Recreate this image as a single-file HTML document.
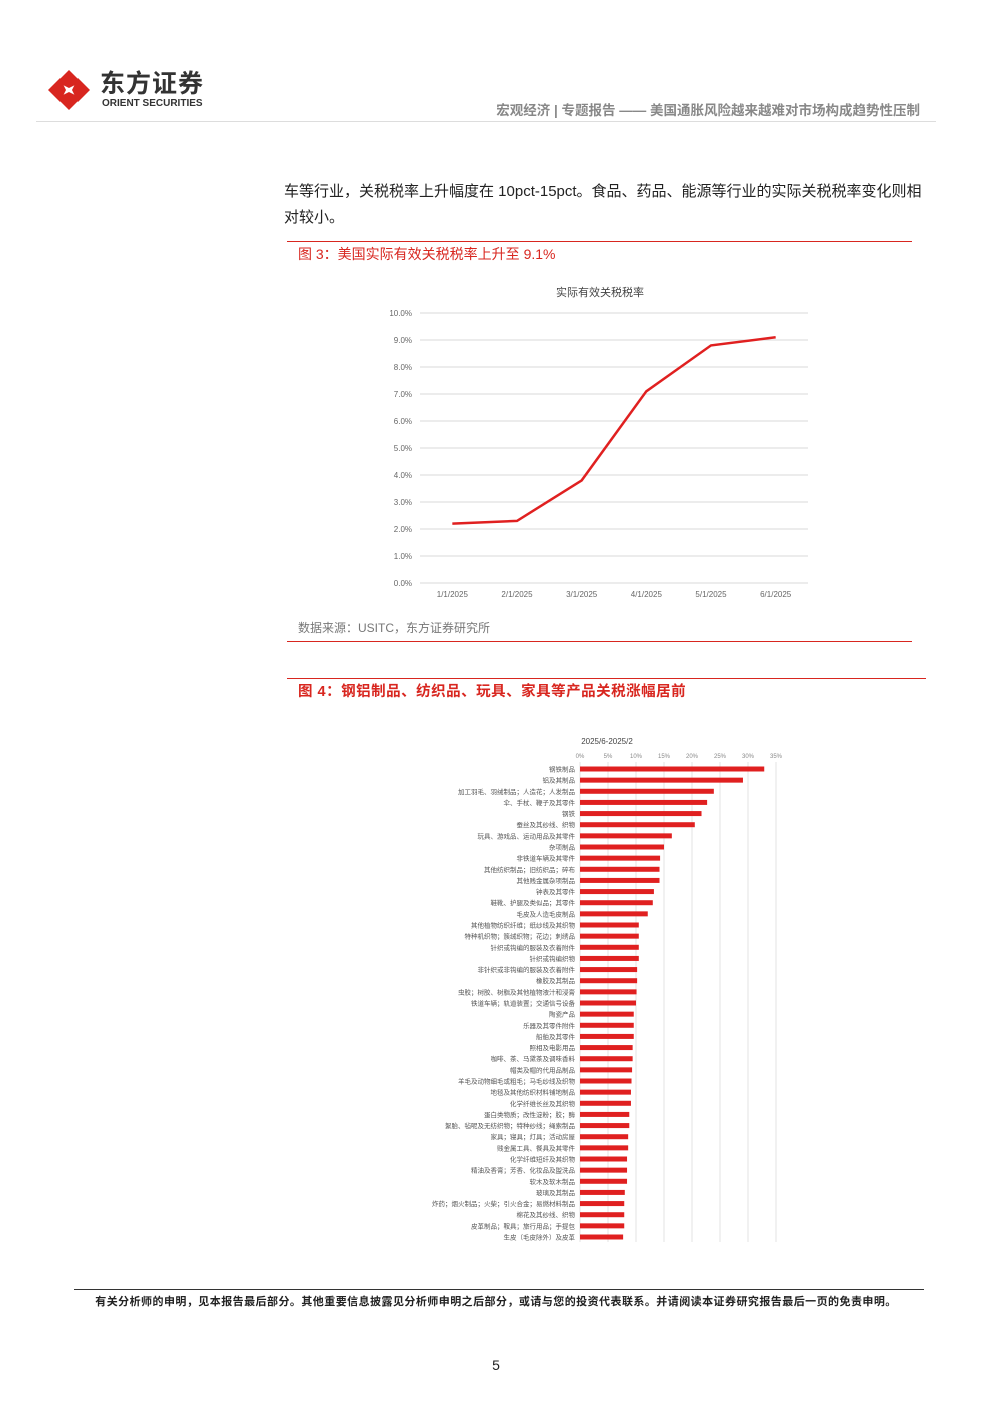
<!DOCTYPE html>
<html><head><meta charset="utf-8">
<style>
body{margin:0;width:992px;height:1403px;background:#fff;position:relative;font-family:"Liberation Sans","Noto Sans CJK SC",sans-serif;overflow:hidden}
.a{position:absolute;white-space:nowrap}
</style></head><body>
<div>
<svg class="a" style="left:46px;top:68px" width="46" height="44">
<path d="M23 2 L35 14 L23 20 L11 14 Z" fill="#d8261f"/><path d="M2 22 L14 10 L20 22 L14 34 Z" fill="#d8261f"/><path d="M44 22 L32 10 L26 22 L32 34 Z" fill="#d8261f"/><path d="M23 42 L11 30 L23 24 L35 30 Z" fill="#d8261f"/></svg>
<div class="a" style="left:100px;top:72px;font-size:25px;line-height:25px;font-weight:bold;color:#333;letter-spacing:1px">东方证券</div>
<div class="a" style="left:102px;top:99px;font-size:10px;line-height:10px;font-weight:bold;color:#333">ORIENT SECURITIES</div>
<div class="a" style="right:72px;top:99px;font-size:13.5px;font-weight:bold;color:#888">宏观经济 | 专题报告 —— 美国通胀风险越来越难对市场构成趋势性压制</div>
<div class="a" style="left:36px;top:121px;width:900px;height:1px;background:#ddd"></div>
</div>
<div class="a" style="left:284px;top:179px;font-size:15px;line-height:26px;color:#222;white-space:normal;width:645px">车等行业，关税税率上升幅度在 10pct-15pct。食品、药品、能源等行业的实际关税税率变化则相对较小。</div>
<div class="a" style="left:287px;top:241px;width:625px;height:1px;background:#d8261f"></div>
<div class="a" style="left:298px;top:244px;font-size:14px;color:#d8261f">图 3：美国实际有效关税税率上升至 9.1%</div>
<svg class="a" style="left:0;top:0" width="992" height="1403" id="line"></svg>
<div class="a" style="left:298px;top:619px;font-size:12px;color:#777">数据来源：USITC，东方证券研究所</div>
<div class="a" style="left:287px;top:641px;width:625px;height:1px;background:#d8261f"></div>
<div class="a" style="left:287px;top:678px;width:639px;height:1px;background:#d8261f"></div>
<div class="a" style="left:298px;top:680px;font-size:14.5px;font-weight:bold;color:#d8261f;letter-spacing:0.5px">图 4：钢铝制品、纺织品、玩具、家具等产品关税涨幅居前</div>
<svg class="a" style="left:0;top:0" width="992" height="1403" id="bar"></svg>
<div class="a" style="left:74px;top:1289px;width:850px;height:1px;background:#333"></div>
<div class="a" style="left:0;width:992px;text-align:center;top:1293px;font-size:11px;font-weight:bold;color:#222;letter-spacing:0.45px">有关分析师的申明，见本报告最后部分。其他重要信息披露见分析师申明之后部分，或请与您的投资代表联系。并请阅读本证券研究报告最后一页的免责申明。</div>
<div class="a" style="left:0;width:992px;text-align:center;top:1357px;font-size:14px;color:#222">5</div>
<script>
const lineCats=["1/1/2025","2/1/2025","3/1/2025","4/1/2025","5/1/2025","6/1/2025"];
const lineVals=[2.2,2.3,3.8,7.1,8.8,9.1];
const lineTicks=[0,1,2,3,4,5,6,7,8,9,10];
const barCats=["钢铁制品","铝及其制品","加工羽毛、羽绒制品；人造花；人发制品","伞、手杖、鞭子及其零件","钢铁","蚕丝及其纱线、织物","玩具、游戏品、运动用品及其零件","杂项制品","非铁道车辆及其零件","其他纺织制品；旧纺织品；碎布","其他贱金属杂项制品","钟表及其零件","鞋靴、护腿及类似品；其零件","毛皮及人造毛皮制品","其他植物纺织纤维；纸纱线及其织物","特种机织物；簇绒织物；花边；刺绣品","针织或钩编的服装及衣着附件","针织或钩编织物","非针织或非钩编的服装及衣着附件","橡胶及其制品","虫胶；树胶、树脂及其他植物液汁和浸膏","铁道车辆；轨道装置；交通信号设备","陶瓷产品","乐器及其零件附件","船舶及其零件","照相及电影用品","咖啡、茶、马黛茶及调味香料","帽类及帽的代用品制品","羊毛及动物细毛或粗毛；马毛纱线及织物","地毯及其他纺织材料铺地制品","化学纤维长丝及其织物","蛋白类物质；改性淀粉；胶；酶","絮胎、毡呢及无纺织物；特种纱线；绳索制品","家具；寝具；灯具；活动房屋","贱金属工具、餐具及其零件","化学纤维短纤及其织物","精油及香膏；芳香、化妆品及盥洗品","软木及软木制品","玻璃及其制品","炸药；烟火制品；火柴；引火合金；易燃材料制品","棉花及其纱线、织物","皮革制品；鞍具；旅行用品；手提包","生皮（毛皮除外）及皮革"];
const barVals=[32.9,29.1,23.9,22.7,21.7,20.5,16.4,15.0,14.3,14.2,14.2,13.2,13.0,12.1,10.5,10.5,10.5,10.5,10.2,10.2,10.1,10.0,9.6,9.6,9.6,9.4,9.4,9.3,9.2,9.1,9.1,8.8,8.8,8.6,8.6,8.4,8.4,8.4,8.0,7.9,7.9,7.9,7.7];
const barTicks=[0,5,10,15,20,25,30,35];
const NS="http://www.w3.org/2000/svg";
function mk(p,t,a,txt){const e=document.createElementNS(NS,t);for(const k in a)e.setAttribute(k,a[k]);if(txt!==undefined)e.textContent=txt;p.appendChild(e);return e;}
const L=document.getElementById('line');
const lx0=420,lx1=808,ly0=583,ly1=313;
const ly=v=>ly0-(v/10)*(ly0-ly1);
const lstep=(lx1-lx0)/lineCats.length;
const lx=i=>lx0+lstep*(i+0.5);
let t=mk(L,'text',{x:600,y:296,'text-anchor':'middle','font-size':11,fill:'#444'},'实际有效关税税率');


lineTicks.forEach(v=>{
 const g=mk(L,'line',{x1:lx0,x2:lx1,y1:ly(v),y2:ly(v),stroke:'#d9d9d9','stroke-width':1});
 
 
 const tx=mk(L,'text',{x:412,y:ly(v)+3,'text-anchor':'end','font-size':8,fill:'#666'},v.toFixed(1)+'%');
 
 
});
lineCats.forEach((c,i)=>{
 const tx=mk(L,'text',{x:lx(i),y:597,'text-anchor':'middle','font-size':8,fill:'#666'},c);
 
 
});
const pl=mk(L,'polyline',{points:lineVals.map((v,i)=>lx(i)+','+ly(v)).join(' '),fill:'none',stroke:'#e02020','stroke-width':2.5});


const B=document.getElementById('bar');
const bx0=580,bpx=5.6,by0=769,bstep=468/(barCats.length-1);
const bx=v=>bx0+v*bpx;
t=mk(B,'text',{x:607,y:744,'text-anchor':'middle','font-size':8,fill:'#444'},'2025/6-2025/2');


barTicks.forEach(v=>{
 const g=mk(B,'line',{x1:bx(v),x2:bx(v),y1:762,y2:1242,stroke:'#e3e3e3','stroke-width':1});
 
 
 const tx=mk(B,'text',{x:bx(v),y:758,'text-anchor':'middle','font-size':6,fill:'#888'},v+'%');
 
 
});
barCats.forEach((c,i)=>{
 const y=by0+i*bstep;
 const r=mk(B,'rect',{x:bx0,y:y-2.5,width:bx(barVals[i])-bx0,height:5,fill:'#e02020'});
 
 
 const tx=mk(B,'text',{x:575,y:y+2.5,'text-anchor':'end','font-size':6.5,fill:'#555'},c);
 
 
});
</script>
</body></html>
